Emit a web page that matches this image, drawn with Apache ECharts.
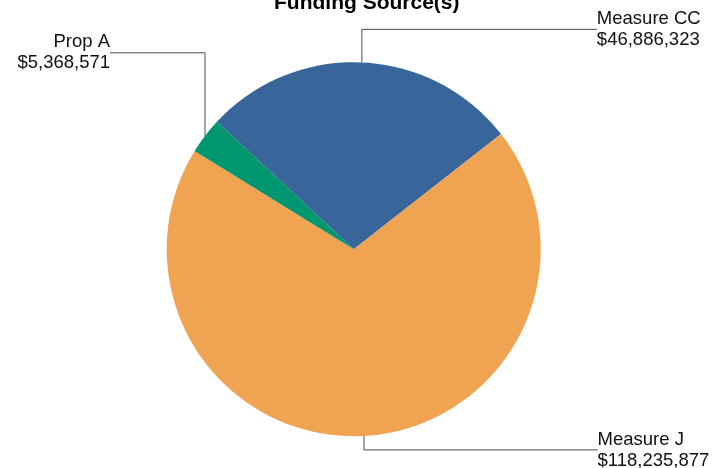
<!DOCTYPE html>
<html><head><meta charset="utf-8">
<script src="https://cdn.jsdelivr.net/npm/echarts@6/dist/echarts.min.js"></script>
<style>html,body{margin:0;padding:0;background:#fff}#c{width:725px;height:468px}</style>
</head><body><div id="c"></div>
<script>
const categories = ['Measure CC', 'Measure J', 'Prop A'];
const values = [46886323, 118235877, 5368571];
const colors = ['#39669A', '#F0A451', '#00966F'];
// leader line elbow offsets from each slice's anchor point (layout only)
const leaderDy = [-33, 14, -83];
const leaderDx = [235, 233.5, -95];

const chart = echarts.init(document.getElementById('c'), null, {renderer: 'canvas'});
const fam = '"Liberation Sans", Arial, sans-serif';
chart.setOption({
  animation: false,
  backgroundColor: '#ffffff',
  title: {
    text: 'Funding Source(s)',
    left: 269, top: -12,
    textStyle: {fontSize: 21, fontWeight: 'bold', color: '#000', fontFamily: fam}
  },
  series: [{
    type: 'pie',
    radius: 187,
    center: [353.7, 249.2],
    startAngle: 137,
    clockwise: true,
    avoidLabelOverlap: false,
    silent: true,
    minShowLabelAngle: 0,
    emphasis: {disabled: true},
    itemStyle: {borderWidth: 0},
    label: {
      show: true,
      position: 'outside',
      fontFamily: fam,
      fontSize: 18.5,
      lineHeight: 21,
      color: '#111',
      formatter: function (p) {
        return p.name + '\n$' + p.value.toLocaleString('en-US');
      }
    },
    labelLine: {show: true, length: 10, length2: 10, lineStyle: {color: '#4a4a4a', width: 1}},
    labelLayout: function (p) {
      const pts = p.labelLinePoints;
      if (!pts) return {};
      const a = pts[0];
      const ey = a[1] + leaderDy[p.dataIndex];
      const ex = a[0] + leaderDx[p.dataIndex];
      return {
        x: ex, y: ey,
        align: leaderDx[p.dataIndex] < 0 ? 'right' : 'left',
        verticalAlign: 'middle',
        labelLinePoints: [a, [a[0], ey], [ex, ey]]
      };
    },
    data: categories.map(function (c, i) {
      return {name: c, value: values[i], itemStyle: {color: colors[i]}};
    })
  }]
});
</script>
</body></html>
